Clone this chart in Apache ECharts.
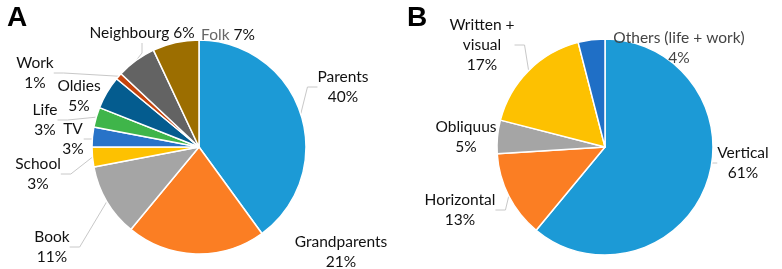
<!DOCTYPE html>
<html>
<head>
<meta charset="utf-8">
<script src="https://cdn.jsdelivr.net/npm/echarts@6/dist/echarts.min.js"></script>
<style>
  html, body { margin: 0; padding: 0; background: #fff; }
  #chart { width: 782px; height: 269px; }
</style>
</head>
<body>
<div id="chart"></div>
<script>
// panel A: sources
var namesA = ['Parents', 'Grandparents', 'Book', 'School', 'TV', 'Life', 'Oldies', 'Work', 'Neighbourg', 'Folk'];
var valuesA = [40, 21, 11, 3, 3, 3, 5, 1, 6, 7];
var colorsA = ['#1c9ad6', '#fb7e23', '#a5a5a5', '#fdc101', '#2873c8', '#3fb54a', '#045c8f', '#c5440d', '#636363', '#9c6e00'];

// panel B: transmission
var namesB = ['Vertical', 'Horizontal', 'Obliquus', 'Written +\nvisual', 'Others (life + work)'];
var valuesB = [61, 13, 5, 17, 4];
var colorsB = ['#1c9ad6', '#fb7e23', '#a5a5a5', '#fdc101', '#1f6fc6'];

// label placement (text block centres) and which slices get a leader line
var labelPosA = [[343, 87], [341, 252], [52, 247], [38, 174], [73, 139], [45, 120], [79, 96], [35, 73], [142, 33], [228, 35]];
var lineA = [true, false, true, true, true, true, false, true, true, false];
var labelPosB = [[743, 163], [460, 210], [466, 137], [482, 45], [679, 48]];
var lineB = [true, true, false, true, true];

var font = 'Lato, "Open Sans", sans-serif';

function buildData(names, values, colors, lines) {
  var out = [];
  for (var i = 0; i < names.length; i++) {
    var item = {
      name: names[i],
      value: values[i],
      itemStyle: { color: colors[i] },
      labelLine: { show: lines[i] }
    };
    if (names[i] === 'Neighbourg') {
      item.label = { formatter: '{b} {c}%' };
    }
    if (names[i] === 'Folk') {
      item.label = { formatter: '{g|{b}} {c}%' };
    }
    if (names[i] === 'Others (life + work)') {
      item.label = { color: '#444' };
    }
    out.push(item);
  }
  return out;
}

function pieSeries(center, radius, data, pos) {
  return {
    type: 'pie',
    center: center,
    radius: radius,
    startAngle: 90,
    clockwise: true,
    animation: false,
    avoidLabelOverlap: false,
    itemStyle: { borderColor: '#fff', borderWidth: 1.5 },
    label: {
      show: true,
      position: 'outside',
      formatter: '{b}\n{c}%',
      fontFamily: font,
      fontSize: 15.5,
      lineHeight: 20,
      color: '#111',
      align: 'center',
      rich: {
        g: { fontFamily: font, fontSize: 15.5, color: '#666' }
      }
    },
    labelLine: {
      show: true,
      length: 10,
      length2: 10,
      lineStyle: { color: '#c8c8c8', width: 1 }
    },
    labelLayout: function (p) {
      var xy = pos[p.dataIndex];
      return { x: xy[0], y: xy[1], align: 'center', verticalAlign: 'middle' };
    },
    emphasis: { disabled: true },
    data: data
  };
}

var titleStyle = { fontFamily: 'Liberation Sans, Arial, sans-serif', fontSize: 28, fontWeight: 'bold', color: '#000' };

var chart = echarts.init(document.getElementById('chart'), null, { renderer: 'canvas' });
chart.setOption({
  backgroundColor: '#fff',
  title: [
    { text: 'A', left: 2, top: -1, textStyle: titleStyle },
    { text: 'B', left: 402, top: -1, textStyle: titleStyle }
  ],
  series: [
    pieSeries([199, 147], 107, buildData(namesA, valuesA, colorsA, lineA), labelPosA),
    pieSeries([605, 147], 108, buildData(namesB, valuesB, colorsB, lineB), labelPosB)
  ]
});
</script>
</body>
</html>
